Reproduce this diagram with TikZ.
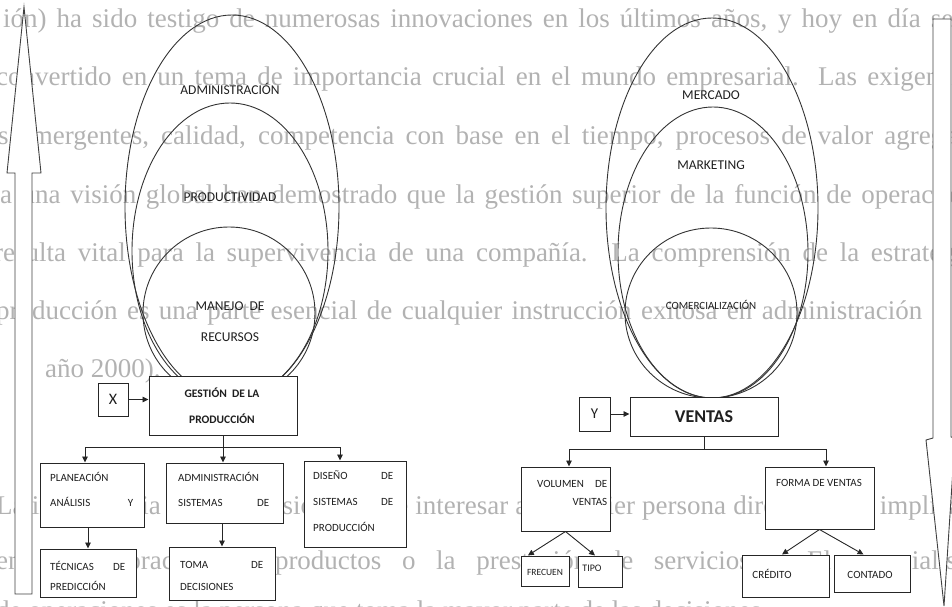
\documentclass[tikz,border=0pt]{standalone}
\usepackage{fontspec}
\setmainfont{Carlito}
\newfontfamily\bgserif{Liberation Serif}
\usetikzlibrary{arrows.meta,calc}
\tikzset{
 bgtxt/.style={anchor=base west, inner sep=0, text=black!30, font=\bgserif\fontsize{27}{27}\selectfont},
 ell/.style={draw=black!80, line width=0.9pt},
 boxnode/.style={draw=black!85, line width=1pt, fill=white, inner sep=0, rectangle},
 lbl/.style={inner sep=0, anchor=base, text=black!88, font=\fontsize{11}{11}\selectfont},
 jlbl/.style={inner sep=0, anchor=base west, text=black!88},
 elbl/.style={inner sep=0, anchor=base, text=black!88, font=\fontsize{13.5}{13.5}\selectfont},
 conn/.style={draw=black!85, line width=0.9pt},
 arr/.style={conn, -{Triangle[length=6pt,width=5.5pt]}},
 bigarrow/.style={draw=black!75, line width=0.9pt, fill=white},
}
\newcommand\Ln[1]{\makebox[\linewidth][s]{#1}\par}
\newcommand\Lines[3]{\parbox[t]{#1}{\fontsize{11}{#2}\selectfont #3}}
\begin{document}
\begin{tikzpicture}[x=1pt,y=-1pt]
\useasboundingbox (0,0) rectangle (952,607);
\clip (0,0) rectangle (952,607);
% background page text
\node[bgtxt] (u1) at (3,28) {\makebox[950pt][s]{ión) ha sido testigo de numerosas innovaciones en los últimos años, y hoy en día se}};
\node[bgtxt] (u2) at (-4,86) {\makebox[985pt][s]{convertido en un tema de importancia crucial en el mundo empresarial. Las exigencias}};
\node[bgtxt] (u3) at (-2,144) {\makebox[985pt][s]{s emergentes, calidad, competencia con base en el tiempo, procesos de valor agregado}};
\node[bgtxt] (u4) at (0,203) {\makebox[990pt][s]{a una visión global han demostrado que la gestión superior de la función de operaciones}};
\node[bgtxt] (u5) at (-6,261) {\makebox[980pt][s]{resulta vital para la supervivencia de una compañía. La comprensión de la estrategia}};
\node[bgtxt] (u6) at (-4,319) {\makebox[926pt][s]{producción es una parte esencial de cualquier instrucción exitosa en administración}};
\node[bgtxt] (u7) at (45,377) {año 2000).};
\node[bgtxt] (l1) at (-4,514) {\makebox[990pt][s]{La importancia de las decisiones debe interesar a cualquier persona directamente implicada}};
\node[bgtxt] (l2) at (-4,569) {\makebox[980pt][s]{en la elaboración de productos o la prestación de servicios. El especialista}};
\node[bgtxt] (l3) at (-4,619) {de operaciones es la persona que toma la mayor parte de las decisiones};
% big arrows
\draw[bigarrow] (15,594) -- (15,173) -- (7,173) -- (24,7) -- (41,173) -- (32,173) -- (32,594) -- cycle;
\draw[bigarrow] (933,19) -- (951,19) -- (951,437) -- (955,438) -- (944,606) -- (926,440) -- (933,438) -- cycle;
% ellipses left
\draw[ell] (232,207) ellipse [x radius=107pt, y radius=192pt];
\draw[ell] (230,251) ellipse [x radius=98pt, y radius=148pt];
\draw[ell] (229,313) ellipse [x radius=86pt, y radius=86pt];
% ellipses right
\draw[ell] (712,208) ellipse [x radius=106pt, y radius=190pt];
\draw[ell] (713,252.5) ellipse [x radius=95pt, y radius=145.5pt];
\draw[ell] (711,313) ellipse [x radius=86pt, y radius=85pt];
% ellipse labels
\node[elbl] (eadm) at (230,94.3) {ADMINISTRACIÓN};
\node[elbl] (eprod) at (230,201.3) {PRODUCTIVIDAD};
\node[elbl] (eman) at (230,310.3) {MANEJO\ \ DE};
\node[elbl] (erec) at (230,341.3) {RECURSOS};
\node[elbl] (emer) at (711,99.3) {MERCADO};
\node[elbl] (emkt) at (711,169.3) {MARKETING};
\node[lbl] (ecom) at (711,309.5) {COMERCIALIZACIÓN};
% boxes
\node[boxnode, minimum width=30pt, minimum height=33pt] (x) at (113,399.5) {};
\node[boxnode, minimum width=148pt, minimum height=59pt] (gest) at (223,405.5) {};
\node[boxnode, minimum width=104pt, minimum height=64pt] (plan) at (92,495) {};
\node[boxnode, minimum width=117pt, minimum height=60pt] (adm) at (224.5,493) {};
\node[boxnode, minimum width=102pt, minimum height=86pt] (dis) at (355,504) {};
\node[boxnode, minimum width=96pt, minimum height=48pt] (tec) at (88,573) {};
\node[boxnode, minimum width=106pt, minimum height=53pt] (toma) at (222,573.5) {};
\node[boxnode, minimum width=31pt, minimum height=34pt] (y) at (594.5,414) {};
\node[boxnode, minimum width=148pt, minimum height=39pt] (ven) at (704,416.5) {};
\node[boxnode, minimum width=89pt, minimum height=64pt] (vol) at (565.5,499) {};
\node[boxnode, minimum width=109pt, minimum height=62pt] (forma) at (819.5,498) {};
\node[boxnode, minimum width=48pt, minimum height=30pt] (frec) at (545,571) {};
\node[boxnode, minimum width=44pt, minimum height=31pt] (tipo) at (600,571.5) {};
\node[boxnode, minimum width=87pt, minimum height=42pt] (cred) at (785.5,576) {};
\node[boxnode, minimum width=76pt, minimum height=37pt] (cont) at (872,573.5) {};
% box texts
\node[inner sep=0, text=black!88, font=\fontsize{16}{16}\selectfont] (xt) at (x) {X};
\node[inner sep=0, text=black!88, font=\fontsize{15}{15}\selectfont] (yt) at (y) {Y};
\node[inner sep=0, text=black!88, align=center, font=\bfseries\fontsize{11.5}{26}\selectfont] (gestt) at (222,405.5) {GESTIÓN\ \ DE LA\\PRODUCCIÓN};
\node[inner sep=0, text=black!88, font=\bfseries\fontsize{18}{18}\selectfont] (vent) at (ven) {VENTAS};
\node[jlbl] (plant) at (50,481.5) {\Lines{83pt}{25pt}{\Ln{PLANEACIÓN\hfill}\Ln{ANÁLISIS\hfill Y}}};
\node[jlbl] (admt) at (178,481.5) {\Lines{91pt}{25pt}{\Ln{ADMINISTRACIÓN\hfill}\Ln{SISTEMAS\hfill DE}}};
\node[jlbl] (dist) at (313,479.5) {\Lines{80pt}{26pt}{\Ln{DISEÑO\hfill DE}\Ln{SISTEMAS\hfill DE}\Ln{PRODUCCIÓN\hfill}}};
\node[jlbl] (tect) at (50,570.5) {\Lines{75pt}{20pt}{\Ln{TÉCNICAS\hfill DE}\Ln{PREDICCIÓN\hfill}}};
\node[jlbl] (tomat) at (180,568.5) {\Lines{83pt}{22pt}{\Ln{TOMA\hfill DE}\Ln{DECISIONES\hfill}}};
\node[jlbl] (volt) at (537,487.5) {\Lines{70pt}{18pt}{\Ln{VOLUMEN\hfill DE}\Ln{\hfill VENTAS}}};
\node[lbl] (format) at (819,486.5) {FORMA DE VENTAS};
\node[lbl, font=\fontsize{9.5}{9.5}\selectfont] (frect) at (545,575) {FRECUEN};
\node[lbl, font=\fontsize{10}{10}\selectfont] (tipot) at (592,571.5) {TIPO};
\node[lbl] (credt) at (772,578.5) {CRÉDITO};
\node[lbl] (contt) at (870,578.5) {CONTADO};
% connectors
\coordinate (bl) at (85,447);
\coordinate (br) at (340,447);
\coordinate (vl) at (569,449);
\coordinate (vr) at (826,449);
\draw[arr] (x.east) -- (x.east -| gest.west);
\draw[arr] (y.east) -- (y.east -| ven.west);
\draw[arr] (gest.south) -- (gest.south |- adm.north);
\draw[arr] (gest.south |- bl) -- (bl) -- (bl |- plan.north);
\draw[arr] (gest.south |- bl) -- (br) -- (br |- dis.north);
\draw[arr] (tec.north |- plan.south) -- (tec.north);
\draw[arr] (toma.north |- adm.south) -- (toma.north);
\draw[conn] (ven.south) -- (ven.south |- vl);
\draw[arr] (ven.south |- vl) -- (vl) -- (vl |- vol.north);
\draw[arr] (ven.south |- vl) -- (vr) -- (vr |- forma.north);
\draw[arr] (vol.south) -- ($(frec.north west)!0.15!(frec.north east)$);
\draw[arr] (vol.south) -- ($(tipo.north west)!0.39!(tipo.north east)$);
\draw[arr] (forma.south) -- ($(cred.north west)!0.46!(cred.north east)$);
\draw[arr] (forma.south) -- ($(cont.north west)!0.39!(cont.north east)$);
\end{tikzpicture}
\end{document}
